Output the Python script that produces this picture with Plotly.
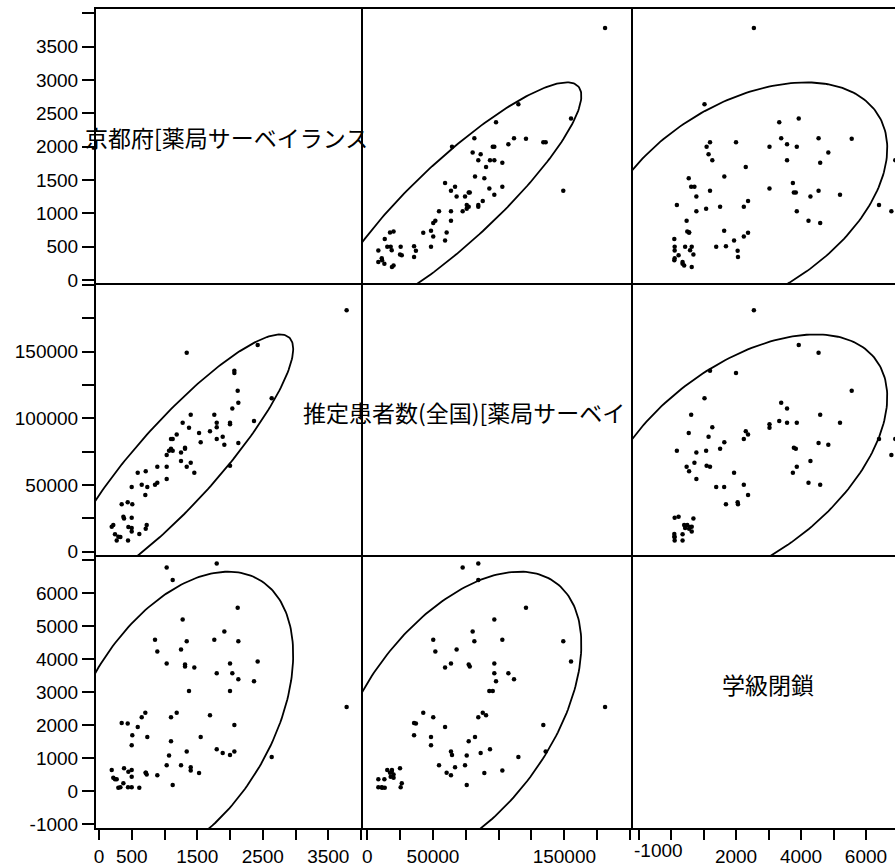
import numpy as np
import plotly.graph_objects as go

# ---------------- data ----------------
var_names = ["京都府[薬局サーベイランス", "推定患者数(全国)[薬局サーベイ", "学級閉鎖"]

kyoto = [1033, 1797, 1125, 2117, 1277, 1913, 855, 1760, 1339, 2127,
         890, 1252, 1033, 1313, 1313, 2000, 2422, 1455, 1797, 2035,
         2127, 2366, 1374, 2000, 3780, 707, 1186, 652, 1099, 1694,
         346, 438, 591, 2066, 508, 737, 1552, 1099, 499, 1797,
         1888, 2000, 2066, 2636, 1339, 1069, 1033, 1252, 1400, 1400,
         1527, 890, 713, 1125,
         194, 382, 218, 244, 270, 499, 448, 499, 295, 326,
         443, 499, 615, 713, 728, 372]

national = [72600, 84500, 84500, 120800, 96700, 80200, 50200, 102800, 149200, 81500,
            51800, 68000, 63700, 77200, 78000, 96700, 155100, 59200, 96700, 107400,
            111700, 98000, 92900, 95500, 181000, 42600, 87900, 50200, 84500, 90400,
            35600, 37000, 59200, 134000, 35600, 48500, 82000, 77200, 48500, 93400,
            86300, 64500, 135800, 115000, 63700, 75700, 54600, 74400, 66800, 102800,
            89100, 63700, 60400, 75700,
            18750, 24900, 20000, 13000, 8400, 17800, 18600, 15200, 11250, 11000,
            8400, 25400, 13300, 17300, 20000, 26250]

closures = [6780, 6900, 6400, 5560, 5200, 4840, 4590, 4590, 4540, 4540,
            4230, 4290, 3870, 3840, 3780, 3870, 3930, 3750, 3570, 3570,
            3390, 3330, 3030, 3030, 2550, 2370, 2370, 2240, 2240, 2300,
            2060, 2050, 1940, 2000, 1690, 1635, 1640, 1510, 1390, 1270,
            1155, 1095, 1200, 1030, 1200, 1080, 780, 780, 720, 620,
            545, 480, 556, 180,
            637, 689, 404, 355, 355, 434, 586, 637, 101, 112,
            112, 112, 101, 556, 500, 233]

data = [kyoto, national, closures]

# tick definitions per variable
tick_vals = [
    [0, 500, 1000, 1500, 2000, 2500, 3000, 3500, 4000],
    [0, 25000, 50000, 75000, 100000, 125000, 150000, 175000, 200000],
    [-1000, 0, 1000, 2000, 3000, 4000, 5000, 6000, 7000],
]
y_tick_text = [
    ["0", "500", "1000", "1500", "2000", "2500", "3000", "3500", ""],
    ["0", "", "50000", "", "100000", "", "150000", "", ""],
    ["-1000", "0", "1000", "2000", "3000", "4000", "5000", "6000", ""],
]
x_tick_text = [
    ["0", "500", "", "1500", "", "2500", "", "3500", ""],
    ["0", "", "50000", "", "", "", "150000", "", ""],
    ["", "", "", "2000", "", "4000", "", "6000", ""],
]
x_ranges = [[-46, 4030], [-3274, 202280], [-1170, 6892]]
y_ranges = [[-45, 4065], [-2475, 201525], [-1123, 7160]]

# ---------------- layout geometry ----------------
W, H = 895, 866
ML, MR, MT, MB = 96, 0, 9, 38
col_px = [(96, 363), (363, 633), (633, 895)]
row_px = [(9, 283), (283, 555), (555, 828)]
pw, ph = W - ML - MR, H - MT - MB


def xdom(c):
    a, b = col_px[c]
    return [(a - ML) / pw, (b - ML) / pw]


def ydom(r):
    a, b = row_px[r]
    return [(H - MB - b) / ph, (H - MB - a) / ph]


def ellipse(x, y, k=np.sqrt(5.991), n=240):
    x = np.asarray(x, float)
    y = np.asarray(y, float)
    cov = np.cov(x, y)
    vals, vecs = np.linalg.eigh(cov)
    t = np.linspace(0, 2 * np.pi, n)
    circ = np.stack([np.cos(t), np.sin(t)])
    pts = vecs @ (np.sqrt(vals)[:, None] * circ) * k
    return x.mean() + pts[0], y.mean() + pts[1]


fig = go.Figure()
tick_font = dict(family="Liberation Sans, Arial, sans-serif", size=19, color="black")

for r in range(3):
    for c in range(3):
        idx = r * 3 + c + 1
        sfx = "" if idx == 1 else str(idx)
        xa, ya = "x" + sfx, "y" + sfx
        if r != c:
            ex, ey = ellipse(data[c], data[r])
            fig.add_trace(go.Scatter(x=ex, y=ey, xaxis=xa, yaxis=ya, mode="lines",
                                     line=dict(color="black", width=1.8),
                                     hoverinfo="skip", showlegend=False))
            fig.add_trace(go.Scatter(x=data[c], y=data[r], xaxis=xa, yaxis=ya,
                                     mode="markers",
                                     marker=dict(color="black", size=4.5),
                                     showlegend=False))
        xkey = "xaxis" + sfx
        ykey = "yaxis" + sfx
        # each panel draws its left and bottom edges; only the top row draws its top edge
        xax = dict(domain=xdom(c), range=x_ranges[c], anchor=ya,
                   showgrid=False, zeroline=False, showline=True,
                   linecolor="black", linewidth=2, mirror=(r == 0),
                   fixedrange=True)
        yax = dict(domain=ydom(r), range=y_ranges[r], anchor=xa,
                   showgrid=False, zeroline=False, showline=True,
                   linecolor="black", linewidth=2, mirror=False,
                   fixedrange=True)
        if r == 2:
            xax.update(tickmode="array", tickvals=tick_vals[c], ticktext=x_tick_text[c],
                       ticks="outside", ticklen=10, tickwidth=2, tickcolor="black",
                       tickfont=tick_font, showticklabels=True)
        else:
            xax.update(ticks="", showticklabels=False)
        if c == 0:
            yax.update(tickmode="array", tickvals=tick_vals[r], ticktext=y_tick_text[r],
                       ticks="outside", ticklen=12, tickwidth=2, tickcolor="black",
                       tickfont=tick_font, showticklabels=True)
        else:
            yax.update(ticks="", showticklabels=False)
        fig.layout[xkey] = xax
        fig.layout[ykey] = yax

label_font = dict(family="Noto Sans CJK JP, sans-serif", size=23, color="black")
fig.add_annotation(x=1939, y=2145, xref="x", yref="y", text=var_names[0],
                   showarrow=False, font=label_font, xanchor="center", yanchor="middle")
fig.add_annotation(x=197700, y=104800, xref="x5", yref="y5", text=var_names[1],
                   showarrow=False, font=label_font, xanchor="right", yanchor="middle")
fig.add_annotation(x=2985, y=3246, xref="x9", yref="y9", text=var_names[2],
                   showarrow=False, font=label_font, xanchor="center", yanchor="middle")
# the first bottom tick label of the last column sits to the right of its tick
fig.add_annotation(x=(658 - ML) / pw, y=(H - MB - 851) / ph,
                   xref="paper", yref="paper", text="-1000", showarrow=False,
                   font=tick_font, xanchor="center", yanchor="middle")

fig.update_layout(width=W, height=H, margin=dict(l=ML, r=MR, t=MT, b=MB),
                  paper_bgcolor="white", plot_bgcolor="white", showlegend=False)

fig.write_html("out.html",
               config={"displayModeBar": False},
               post_script="document.body.style.margin='0';"
                           "document.body.style.overflow='hidden';")
